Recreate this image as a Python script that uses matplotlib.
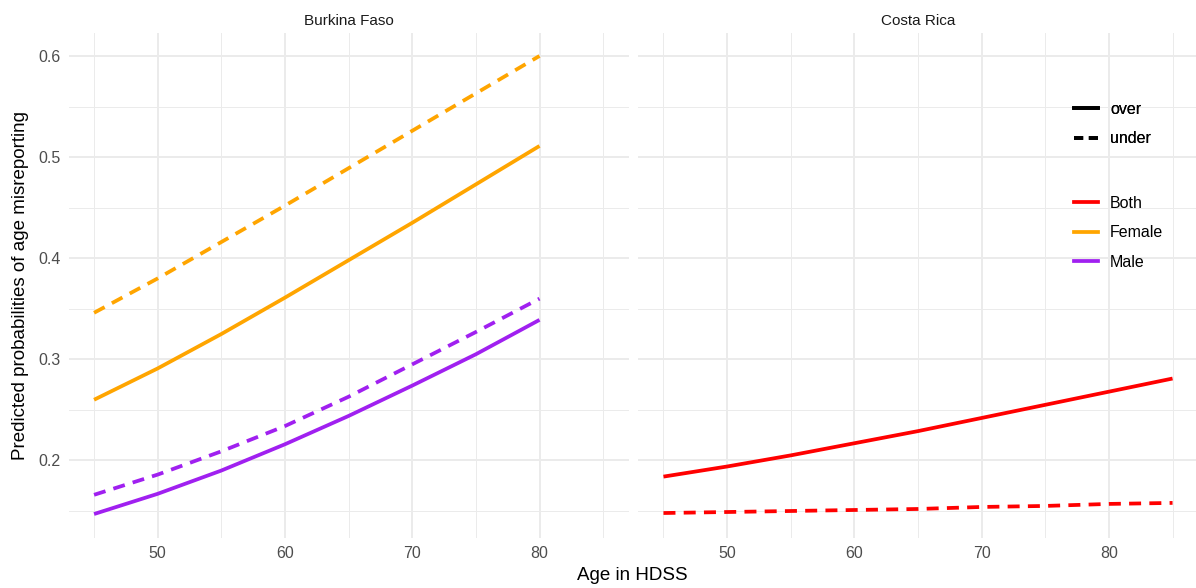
import matplotlib
matplotlib.use("Agg")
import matplotlib.pyplot as plt
from matplotlib.lines import Line2D
import numpy as np

plt.rcParams['font.family'] = ['Liberation Sans', 'DejaVu Sans']

# ---- data ----
ages_bf = [45, 50, 55, 60, 65, 70, 75, 80]
bf_female_over = [0.260, 0.291, 0.325, 0.361, 0.398, 0.435, 0.473, 0.511]
bf_female_under = [0.346, 0.380, 0.416, 0.452, 0.489, 0.526, 0.563, 0.600]
bf_male_over = [0.147, 0.167, 0.190, 0.216, 0.244, 0.274, 0.305, 0.339]
bf_male_under = [0.166, 0.186, 0.209, 0.234, 0.263, 0.295, 0.327, 0.360]

ages_cr = [45, 50, 55, 60, 65, 70, 75, 80, 85]
cr_both_over = [0.184, 0.194, 0.205, 0.217, 0.229, 0.242, 0.255, 0.268, 0.281]
cr_both_under = [0.148, 0.149, 0.150, 0.151, 0.152, 0.154, 0.155, 0.157, 0.158]

panels = ["Burkina Faso", "Costa Rica"]
sex_levels = ["Both", "Female", "Male"]
type_levels = ["over", "under"]
colors = {"Both": "#FF0000", "Female": "#FFA500", "Male": "#A020F0"}
styles = {"over": "-", "under": (0, (3.2, 2.2))}
legend_styles = {"over": "-", "under": (0, (2.45, 1.5))}

x_major = [50, 60, 70, 80]
x_minor = [45, 55, 65, 75, 85]
y_major = [0.2, 0.3, 0.4, 0.5, 0.6]
y_minor = [0.15, 0.25, 0.35, 0.45, 0.55]

W, H = 1196, 588
fig = plt.figure(figsize=(W / 100, H / 100), dpi=100)

axL = fig.add_axes([68.6 / W, (H - 538) / H, 560 / W, 505 / H])
axR = fig.add_axes([638 / W, (H - 538) / H, 560 / W, 505 / H])

series = {
    "Burkina Faso": [
        (ages_bf, bf_female_over, "Female", "over"),
        (ages_bf, bf_female_under, "Female", "under"),
        (ages_bf, bf_male_over, "Male", "over"),
        (ages_bf, bf_male_under, "Male", "under"),
    ],
    "Costa Rica": [
        (ages_cr, cr_both_over, "Both", "over"),
        (ages_cr, cr_both_under, "Both", "under"),
    ],
}

for ax, name in zip([axL, axR], panels):
    ax.set_xlim(43, 87)
    ax.set_ylim(0.1233, 0.6227)
    for s in ax.spines.values():
        s.set_visible(False)
    for xv in x_minor:
        ax.axvline(xv, color="#EBEBEB", lw=0.7, zorder=0)
    for xv in x_major:
        ax.axvline(xv, color="#EBEBEB", lw=1.4, zorder=0)
    for yv in y_minor:
        ax.axhline(yv, color="#EBEBEB", lw=0.7, zorder=0)
    for yv in y_major:
        ax.axhline(yv, color="#EBEBEB", lw=1.4, zorder=0)
    ax.set_xticks(x_major)
    ax.set_xticklabels([str(v) for v in x_major])
    ax.set_yticks(y_major)
    ax.set_yticklabels(["%.1f" % v for v in y_major])
    ax.tick_params(axis="both", length=0, labelsize=11.5, labelcolor="#4D4D4D", pad=6)
    for xs, ys, sex, typ in series[name]:
        ax.plot(xs, ys, color=colors[sex], linestyle=styles[typ], lw=2.7,
                solid_capstyle="butt", dash_capstyle="butt", zorder=3)
    ax.set_title(name, fontsize=11, color="#1A1A1A", pad=6)

axR.tick_params(axis="y", labelleft=False)

fig.text((68.6 + 1196) / 2 / W, 4 / H, "Age in HDSS", ha="center", va="bottom", fontsize=13.5)
fig.text(12 / W, (H - 285) / H, "Predicted probabilities of age misreporting", rotation=90,
         ha="left", va="center", fontsize=13.5)

# legends
h_type = [Line2D([], [], color="black", lw=2.7, linestyle=legend_styles[t],
                 dash_capstyle="butt") for t in type_levels]
h_sex = [Line2D([], [], color=colors[s], lw=2.7) for s in sex_levels]
common = dict(loc="upper left", frameon=False, fontsize=11.5, handlelength=1.5,
              handletextpad=0.75, labelspacing=0.9, borderaxespad=0, borderpad=0)
leg1 = fig.legend(h_type, type_levels, bbox_to_anchor=(1074 / W, (H - 102) / H), **common)
leg2 = fig.legend(h_sex, sex_levels, bbox_to_anchor=(1074 / W, (H - 196) / H), **common)
fig.add_artist(leg1)

fig.savefig("out.png", dpi=100)
